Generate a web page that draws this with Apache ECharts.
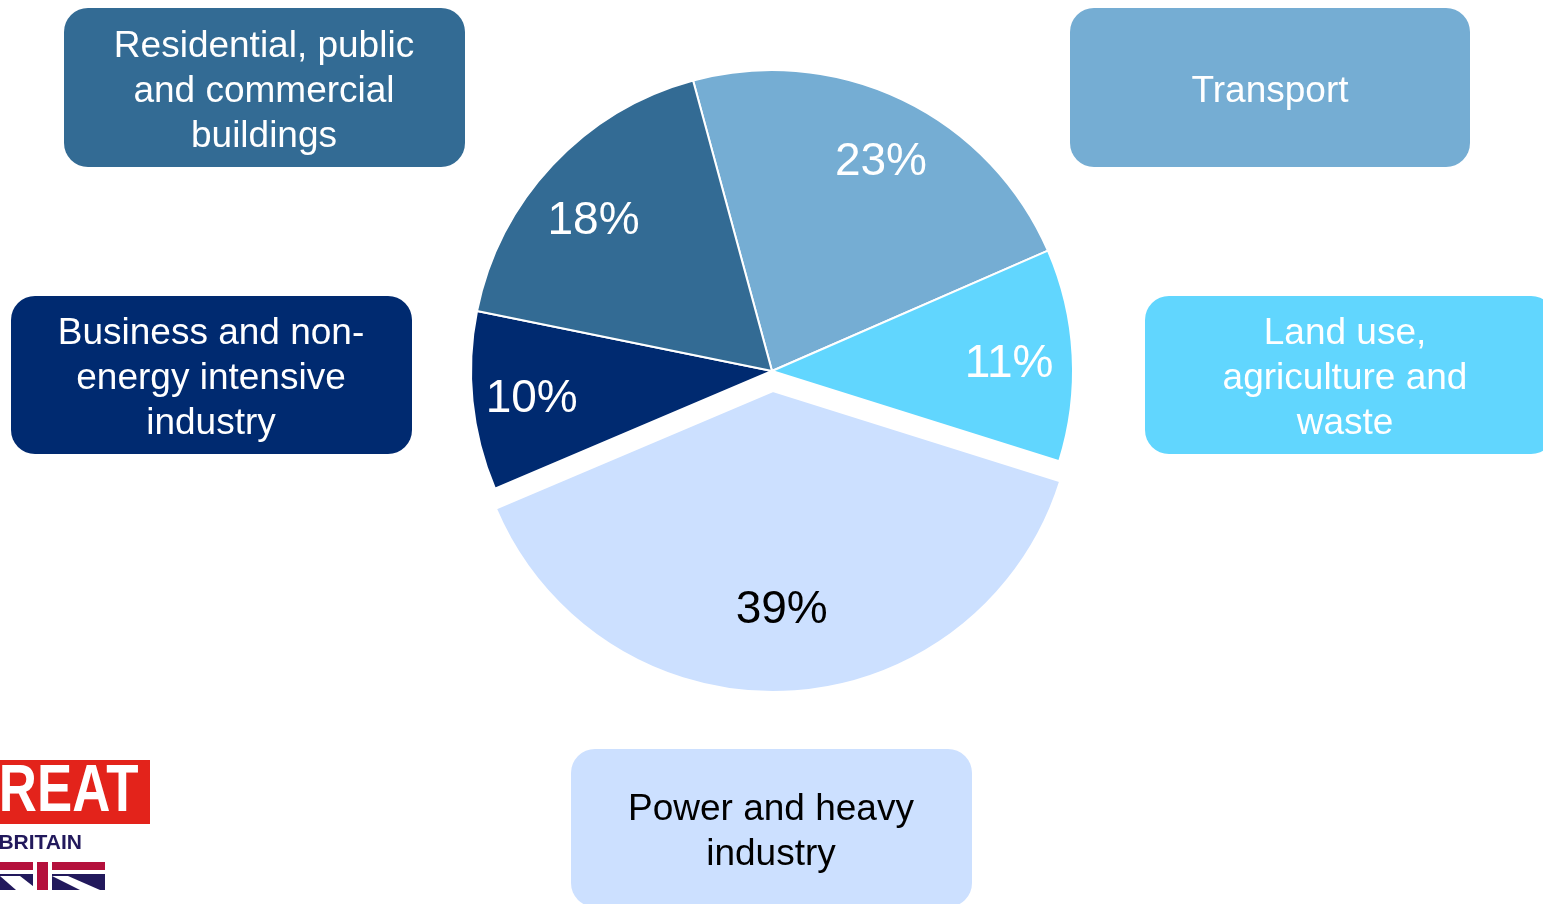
<!DOCTYPE html>
<html>
<head>
<meta charset="utf-8">
<title>Emissions by sector</title>
<script src="https://cdn.jsdelivr.net/npm/echarts@6/dist/echarts.min.js"></script>
<style>
  html, body { margin: 0; padding: 0; background: #fff; }
  #chart { width: 1543px; height: 904px; }
</style>
</head>
<body>
<div id="chart"></div>
<script>
// data, in drawing order (clockwise from just left of 12 o'clock)
const sectors = [
  "Transport",
  "Land use, agriculture and waste",
  "Power and heavy industry",
  "Business and non-energy intensive industry",
  "Residential, public and commercial buildings"
];
// shares; labels show them rounded
const shares = [22.7, 11.4, 38.8, 9.6, 17.6];
const boxLabels = [
  "Transport",
  "Land use,\nagriculture and\nwaste",
  "Power and heavy\nindustry",
  "Business and non-\nenergy intensive\nindustry",
  "Residential, public\nand commercial\nbuildings"
];

const palette = ["#75ADD3", "#61D6FE", "#CCE0FF", "#002A70", "#336B94"];
const textColors = ["#fff", "#fff", "#000", "#fff", "#fff"];
const exploded = "Power and heavy industry";

// box layout [x, y, w, h]
const boxes = [
  [1070, 8, 400, 159],
  [1145, 296, 410, 158],
  [571, 749, 401, 158],
  [11, 296, 401, 158],
  [64, 8, 401, 159]
];
// nudges for the percentage labels that don't sit on the slice middle
const labelNudge = [[5, 8], [-3, 6], [-3, -21], [-1, 4], [-3, 15]];

const FONT = "'Liberation Sans', Arial, sans-serif";
const CENTER = [772, 371];
const R = 301;

const chart = echarts.init(document.getElementById("chart"));

const boxGraphics = boxes.map(function (b, i) {
  return {
    type: "group",
    children: [
      {
        type: "rect",
        shape: { x: b[0], y: b[1], width: b[2], height: b[3], r: 24 },
        style: { fill: palette[i] }
      },
      {
        type: "text",
        x: b[0] + 200,
        y: b[1] + b[3] / 2 + 4,
        style: {
          text: boxLabels[i],
          fill: textColors[i],
          font: "37px " + FONT,
          lineHeight: 45,
          align: "center",
          verticalAlign: "middle"
        }
      }
    ]
  };
});

// GREAT Britain logo, clipped at the left edge
const logo = [
  { type: "rect", shape: { x: -20, y: 760, width: 170, height: 64 }, style: { fill: "#E3231B" } },
  {
    type: "text", x: -1, y: 793, scaleX: 0.8, originX: -1,
    style: { text: "REAT", fill: "#fff", font: "bold 66px " + FONT, align: "left", verticalAlign: "middle" }
  },
  {
    type: "text", x: 82, y: 843,
    style: { text: "BRITAIN", fill: "#22195C", font: "bold 21px " + FONT, align: "right", verticalAlign: "middle" }
  },
  { type: "rect", shape: { x: 0, y: 862, width: 105, height: 28 }, style: { fill: "#22195C" } },
  { type: "polygon", shape: { points: [[0, 876], [20, 876], [38, 890], [16, 890]] }, style: { fill: "#fff" } },
  { type: "polygon", shape: { points: [[52, 876], [68, 876], [100, 890], [80, 890]] }, style: { fill: "#fff" } },
  { type: "rect", shape: { x: 0, y: 862, width: 105, height: 12 }, style: { fill: "#fff" } },
  { type: "rect", shape: { x: 0, y: 862, width: 105, height: 8 }, style: { fill: "#B4103C" } },
  { type: "rect", shape: { x: 33, y: 862, width: 19, height: 28 }, style: { fill: "#fff" } },
  { type: "rect", shape: { x: 37, y: 862, width: 11, height: 28 }, style: { fill: "#B4103C" } }
];

const pieData = sectors.map(function (s, i) {
  return { name: s, value: shares[i], selected: s === exploded };
});

const labelData = sectors.map(function (s, i) {
  const lab = { color: textColors[i], offset: labelNudge[i] };
  return {
    name: s,
    value: shares[i],
    selected: s === exploded,
    label: lab,
    select: { label: lab }
  };
});

chart.setOption({
  animation: false,
  color: palette,
  graphic: boxGraphics.concat(logo),
  series: [
    {
      type: "pie",
      center: CENTER,
      radius: R,
      startAngle: 105.2,
      clockwise: true,
      selectedMode: "single",
      selectedOffset: 20,
      silent: true,
      label: { show: false },
      labelLine: { show: false },
      itemStyle: { borderColor: "#fff", borderWidth: 2 },
      emphasis: { scale: false },
      data: pieData
    },
    {
      // transparent ring used only to place the percentages further out
      type: "pie",
      center: CENTER,
      radius: [174, R],
      startAngle: 105.2,
      clockwise: true,
      selectedMode: "single",
      selectedOffset: 20,
      silent: true,
      z: 3,
      itemStyle: { color: "rgba(0,0,0,0)", borderWidth: 0 },
      label: {
        show: true,
        position: "inside",
        formatter: function (p) { return Math.round(p.value) + "%"; },
        fontSize: 46,
        fontFamily: FONT
      },
      labelLine: { show: false },
      emphasis: { scale: false },
      data: labelData
    }
  ]
});

window.addEventListener("resize", function () {
  chart.resize();
});
</script>
</body>
</html>
